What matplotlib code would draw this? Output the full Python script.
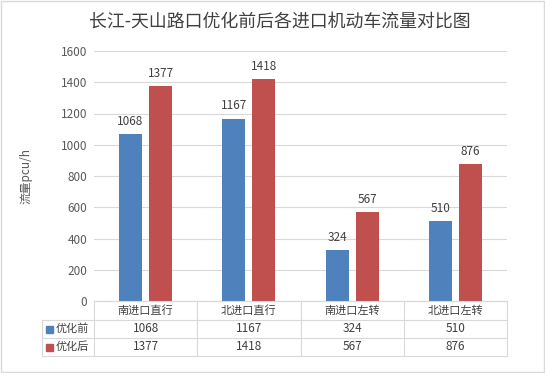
import numpy as np
import matplotlib
matplotlib.use("Agg")
import matplotlib.pyplot as plt
from matplotlib.patches import Rectangle

plt.rcParams['font.family'] = ['Noto Sans CJK SC', 'DejaVu Sans']

categories = ["南进口直行", "北进口直行", "南进口左转", "北进口左转"]
series_names = ["优化前", "优化后"]
before = [1068, 1167, 324, 510]
after = [1377, 1418, 567, 876]
colors = ["#4F81BD", "#C0504D"]
yticks = [0, 200, 400, 600, 800, 1000, 1200, 1400, 1600]

W, H = 545, 373
fig = plt.figure(figsize=(W / 100, H / 100), dpi=100)

# plot area in pixels
px_l, px_r, px_t, px_b = 94, 507, 51, 301


def fx(x):
    return x / W


def fy(y):
    return 1 - y / H


ax = fig.add_axes([fx(px_l), fy(px_b), fx(px_r - px_l), fy(px_t) - fy(px_b)])
x = np.arange(len(categories))
bw = 0.223
off = 0.146
ax.bar(x - off, before, bw, color=colors[0], zorder=3)
ax.bar(x + off, after, bw, color=colors[1], zorder=3)
for xi, v in zip(x - off, before):
    ax.text(xi, v + 40, str(v), ha="center", va="bottom", fontsize=8.5, color="#404040")
for xi, v in zip(x + off, after):
    ax.text(xi, v + 40, str(v), ha="center", va="bottom", fontsize=8.5, color="#404040")

ax.set_xlim(-0.5, len(categories) - 0.5)
ax.set_ylim(0, 1600)
ax.set_yticks(yticks)
ax.set_yticklabels([str(t) for t in yticks], fontsize=8.5, color="#595959")
ax.tick_params(axis="y", length=0, pad=5)
ax.set_xticks([])
ax.grid(axis="y", color="#D9D9D9", linewidth=0.8, zorder=0)
for s in ["top", "right", "left"]:
    ax.spines[s].set_visible(False)
ax.spines["bottom"].set_color("#D9D9D9")
ax.set_ylabel("流量pcu/h", fontsize=8.5, color="#595959", labelpad=20)

fig.text(fx(280), fy(22), "长江-天山路口优化前后各进口机动车流量对比图",
         ha="center", va="center", fontsize=12.9, color="#404040")

# data table below the plot
tab = fig.add_axes([0, 0, 1, 1])
tab.set_xlim(0, W)
tab.set_ylim(H, 0)
tab.axis("off")
tab.patch.set_alpha(0)
lc = "#D9D9D9"
leg_l = 42
rows = [301, 320, 338, 356]
colw = (px_r - px_l) / len(categories)
cols = [px_l + i * colw for i in range(len(categories) + 1)]
for c in cols:
    tab.plot([c, c], [rows[0], rows[-1]], color=lc, lw=0.8)
tab.plot([leg_l, leg_l], [rows[1], rows[-1]], color=lc, lw=0.8)
tab.plot([px_l, px_r], [rows[0], rows[0]], color=lc, lw=0.8)
for r in rows[1:]:
    tab.plot([leg_l, px_r], [r, r], color=lc, lw=0.8)

for i, cat in enumerate(categories):
    cx = px_l + (i + 0.5) * colw
    tab.text(cx, (rows[0] + rows[1]) / 2, cat, ha="center", va="center",
             fontsize=8, color="#404040")
    tab.text(cx, (rows[1] + rows[2]) / 2, str(before[i]), ha="center", va="center",
             fontsize=8.5, color="#404040")
    tab.text(cx, (rows[2] + rows[3]) / 2, str(after[i]), ha="center", va="center",
             fontsize=8.5, color="#404040")

for j, name in enumerate(series_names):
    cy = (rows[j + 1] + rows[j + 2]) / 2
    tab.add_patch(Rectangle((46, cy - 3.5), 7, 7, color=colors[j]))
    tab.text(56, cy, name, ha="left", va="center", fontsize=8, color="#404040")

# outer border
tab.add_patch(Rectangle((0.5, 0.5), W - 1.5, H - 1.5, fill=False, ec="#D9D9D9", lw=1))

fig.savefig("out.png", dpi=100)
